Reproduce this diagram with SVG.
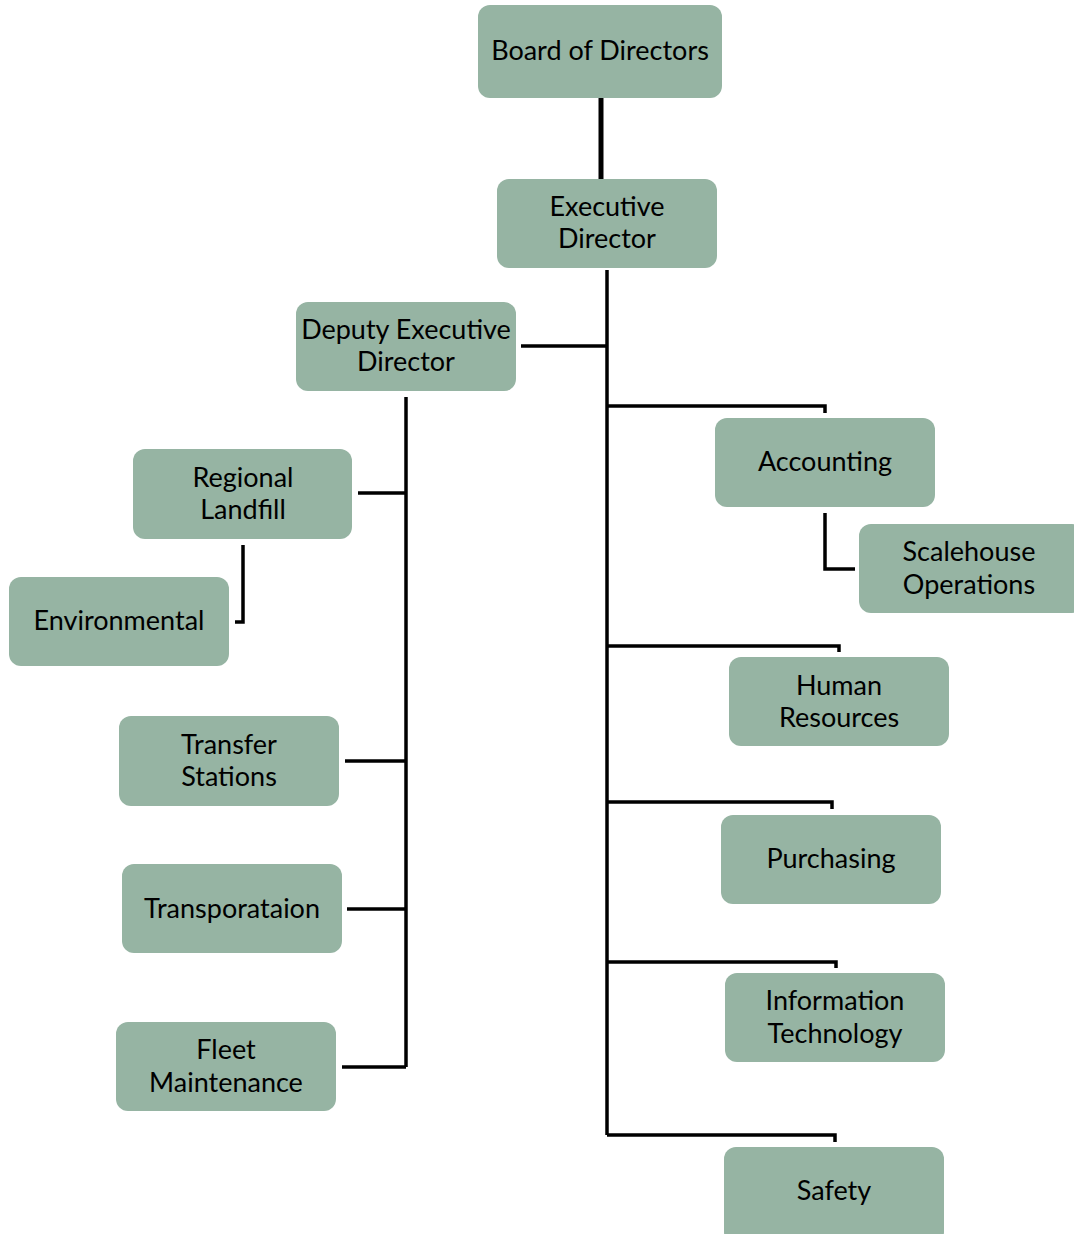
<svg xmlns="http://www.w3.org/2000/svg" width="1074" height="1234" viewBox="0 0 1074 1234">
<style>
.box{fill:#96b4a3;}
.t{font-family:Lato,"Open Sans","Liberation Sans",sans-serif;font-size:27px;fill:#000;text-anchor:middle;}
.c{fill:none;stroke:#000;stroke-width:3.5;}
</style>
<rect width="1074" height="1234" fill="#fff"/>
<g id="connectors">
<line x1="601" y1="98" x2="601" y2="181" stroke="#000" stroke-width="5"/>
<path class="c" d="M607 270V1135"/>
<path class="c" d="M521 346H607"/>
<path class="c" d="M406 397V1067"/>
<path class="c" d="M358 493H406"/>
<path class="c" d="M243 545V622H235"/>
<path class="c" d="M345 761H406"/>
<path class="c" d="M347 909H406"/>
<path class="c" d="M342 1067H406"/>
<path class="c" d="M607 406H825V413"/>
<path class="c" d="M825 513V569H855"/>
<path class="c" d="M607 646H839V652"/>
<path class="c" d="M607 802H832V809"/>
<path class="c" d="M607 962H836V968"/>
<path class="c" d="M607 1135H835V1142"/>
</g>
<g id="board"><rect class="box" x="478" y="5" width="244" height="93" rx="12"/><text class="t" x="600" y="60">Board of Directors</text></g>
<g id="exec"><rect class="box" x="497" y="179" width="220" height="89" rx="12"/><text class="t" x="607" y="216">Executive</text><text class="t" x="607" y="248">Director</text></g>
<g id="deputy"><rect class="box" x="296" y="302" width="220" height="89" rx="12"/><text class="t" x="406" y="339">Deputy Executive</text><text class="t" x="406" y="371">Director</text></g>
<g id="regional"><rect class="box" x="133" y="449" width="219" height="90" rx="12"/><text class="t" x="243" y="487">Regional</text><text class="t" x="243" y="519">Landfill</text></g>
<g id="environmental"><rect class="box" x="9" y="577" width="220" height="89" rx="12"/><text class="t" x="119" y="630">Environmental</text></g>
<g id="transfer"><rect class="box" x="119" y="716" width="220" height="90" rx="12"/><text class="t" x="229" y="754">Transfer</text><text class="t" x="229" y="786">Stations</text></g>
<g id="transportation"><rect class="box" x="122" y="864" width="220" height="89" rx="12"/><text class="t" x="232" y="918">Transporataion</text></g>
<g id="fleet"><rect class="box" x="116" y="1022" width="220" height="89" rx="12"/><text class="t" x="226" y="1059">Fleet</text><text class="t" x="226" y="1092">Maintenance</text></g>
<g id="accounting"><rect class="box" x="715" y="418" width="220" height="89" rx="12"/><text class="t" x="825" y="471">Accounting</text></g>
<g id="scalehouse"><rect class="box" x="859" y="524" width="225" height="89" rx="12"/><text class="t" x="969" y="561">Scalehouse</text><text class="t" x="969" y="594">Operations</text></g>
<g id="hr"><rect class="box" x="729" y="657" width="220" height="89" rx="12"/><text class="t" x="839" y="695">Human</text><text class="t" x="839" y="727">Resources</text></g>
<g id="purchasing"><rect class="box" x="721" y="815" width="220" height="89" rx="12"/><text class="t" x="831" y="868">Purchasing</text></g>
<g id="it"><rect class="box" x="725" y="973" width="220" height="89" rx="12"/><text class="t" x="835" y="1010">Information</text><text class="t" x="835" y="1043">Technology</text></g>
<g id="safety"><rect class="box" x="724" y="1147" width="220" height="97" rx="12"/><text class="t" x="834" y="1200">Safety</text></g>
</svg>
